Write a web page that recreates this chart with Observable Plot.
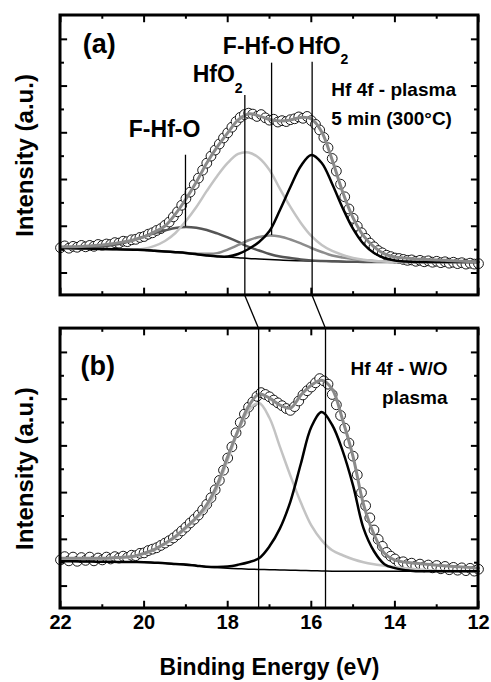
<!DOCTYPE html>
<html>
<head>
<meta charset="utf-8">
<script src="https://cdn.jsdelivr.net/npm/d3@7"></script>
<script src="https://cdn.jsdelivr.net/npm/@observablehq/plot@0.6"></script>
<style>
html, body { margin: 0; padding: 0; background: #fff; }
#chart { width: 491px; height: 682px; }
</style>
</head>
<body>
<div id="chart"></div>
<script>
// ---------- DATA ----------
// Binding energy grid (eV) for the fitted curves
const energyGrid = [22, 21.75, 21.5, 21.25, 21, 20.75, 20.5, 20.25, 20, 19.75, 19.5, 19.25, 19, 18.75, 18.5, 18.25, 18, 17.75, 17.5, 17.25, 17, 16.75, 16.5, 16.25, 16, 15.75, 15.5, 15.25, 15, 14.75, 14.5, 14.25, 14, 13.75, 13.5, 13.25, 13, 12.75, 12.5, 12.25, 12];
// Binding energy of the measured points (eV)
const energyPoints = [22.0, 21.9, 21.8, 21.7, 21.6, 21.5, 21.4, 21.3, 21.2, 21.1, 21.0, 20.9, 20.8, 20.7, 20.6, 20.5, 20.4, 20.3, 20.2, 20.1, 20.0, 19.9, 19.8, 19.7, 19.6, 19.5, 19.4, 19.3, 19.2, 19.1, 19.0, 18.9, 18.8, 18.7, 18.6, 18.5, 18.4, 18.3, 18.2, 18.1, 18.0, 17.9, 17.8, 17.7, 17.6, 17.5, 17.4, 17.3, 17.2, 17.1, 17.0, 16.9, 16.8, 16.7, 16.6, 16.5, 16.4, 16.3, 16.2, 16.1, 16.0, 15.9, 15.8, 15.7, 15.6, 15.5, 15.4, 15.3, 15.2, 15.1, 15.0, 14.9, 14.8, 14.7, 14.6, 14.5, 14.4, 14.3, 14.2, 14.1, 14.0, 13.9, 13.8, 13.7, 13.6, 13.5, 13.4, 13.3, 13.2, 13.1, 13.0, 12.9, 12.8, 12.7, 12.6, 12.5, 12.4, 12.3, 12.2, 12.1, 12.0];

// Panel (a): Hf 4f - plasma 5 min (300 °C)
const aMeasured = [5.4, 5.8, 5.3, 5.7, 5.5, 5.9, 5.6, 5.9, 5.7, 6.1, 5.9,
  6.2, 6.1, 6.5, 6.4, 6.8, 6.7, 7.1, 7.2, 7.6, 7.8,
  8.3, 8.6, 9.1, 9.5, 10.2, 10.9, 12.0, 13.1, 14.5, 15.9,
  17.3, 18.9, 20.3, 22.0, 23.5, 25.0, 26.3, 27.6, 28.9, 30.0,
  31.2, 32.4, 33.3, 33.9, 34.2, 34.0, 33.5, 33.9, 33.2, 32.7,
  32.9, 32.3, 32.6, 32.4, 32.8, 33.0, 33.4, 33.1, 33.5, 32.6,
  31.8, 30.6, 29.0, 26.8, 24.5, 21.8, 19.0, 16.3, 13.7, 11.7,
  10.0, 8.6, 7.4, 6.4, 5.6, 4.8, 4.3, 3.8, 3.5, 3.2,
  3.1, 2.9, 2.7, 2.8, 2.5, 2.7, 2.4, 2.6, 2.3, 2.5,
  2.2, 2.4, 2.1, 2.3, 2.0, 2.2, 1.9, 2.1, 1.9, 2.0];
const aEnvelope = [5.57, 5.61, 5.67, 5.82, 5.99, 6.25, 6.64, 7.06, 7.71, 8.78, 10.06, 12.63, 15.84, 19.48, 23.55, 26.98, 29.97, 32.75, 34.04, 33.61, 32.86, 32.54, 32.75, 33.29, 32.97, 30.19, 24.19, 17.34, 11.78, 7.92, 5.57, 4.07, 3.43, 3.21, 2.99, 2.89, 2.78, 2.68, 2.57, 2.46, 2.36];
const aBackground = [5.35, 5.31, 5.25, 5.20, 5.14, 5.10, 5.03, 4.97, 4.93, 4.77, 4.60, 4.45, 4.28, 4.03, 3.75, 3.58, 3.43, 3.28, 3.10, 3.00, 2.89, 2.78, 2.68, 2.61, 2.57, 2.51, 2.46, 2.42, 2.36, 2.36, 2.36, 2.36, 2.36, 2.36, 2.36, 2.36, 2.36, 2.36, 2.36, 2.36, 2.36];
const aFHfO_19 = [5.35, 5.39, 5.46, 5.57, 5.67, 5.99, 6.42, 7.06, 7.81, 8.56, 9.10, 9.63, 9.85, 9.68, 9.21, 8.46, 7.60, 6.64, 5.57, 4.82, 4.07, 3.53, 3.21, 2.89, 2.68, 2.57, 2.50, 2.44, 2.40, 2.36, 2.36, 2.36, 2.36, 2.36, 2.36, 2.36, 2.36, 2.36, 2.36, 2.36, 2.36];
const aHfO2_176 = [5.35, 5.31, 5.25, 5.20, 5.14, 5.10, 5.05, 5.05, 5.20, 5.80, 6.85, 8.56, 11.13, 14.13, 17.56, 20.77, 23.55, 25.48, 25.80, 24.62, 22.05, 17.98, 14.13, 10.71, 7.92, 5.99, 4.71, 3.85, 3.21, 2.83, 2.57, 2.46, 2.36, 2.36, 2.36, 2.36, 2.36, 2.36, 2.36, 2.36, 2.36];
const aFHfO_170 = [5.35, 5.31, 5.25, 5.20, 5.14, 5.10, 5.03, 4.97, 4.93, 4.77, 4.60, 4.45, 4.28, 4.15, 4.10, 4.25, 5.00, 6.00, 7.00, 7.70, 8.03, 7.81, 7.17, 6.32, 5.35, 4.50, 3.75, 3.32, 3.00, 2.72, 2.57, 2.46, 2.36, 2.36, 2.36, 2.36, 2.36, 2.36, 2.36, 2.36, 2.36];
const aHfO2_160 = [5.35, 5.31, 5.25, 5.20, 5.14, 5.10, 5.03, 4.97, 4.93, 4.77, 4.60, 4.45, 4.28, 4.03, 3.75, 3.55, 3.53, 4.07, 5.14, 6.64, 8.99, 13.49, 18.41, 22.91, 25.26, 23.55, 19.05, 13.92, 9.42, 6.21, 4.28, 3.21, 2.68, 2.46, 2.36, 2.36, 2.36, 2.36, 2.36, 2.36, 2.36];

// Panel (b): Hf 4f - W/O plasma
const bMeasured = [5.6, 6.3, 5.4, 6.2, 5.3, 6.1, 5.5, 6.2, 5.4, 6.0, 5.6,
  6.2, 5.8, 6.3, 6.0, 6.4, 6.1, 6.6, 6.5, 7.0, 7.1,
  7.6, 7.9, 8.2, 8.7, 9.2, 9.7, 10.3, 11.0, 11.8, 12.6,
  13.5, 14.3, 15.2, 16.3, 17.5, 18.9, 20.6, 22.6, 24.8, 27.4,
  29.8, 32.8, 35.0, 36.8, 38.3, 39.4, 40.6, 41.4, 41.0, 40.5,
  39.8, 39.2, 38.6, 38.0, 37.6, 38.4, 39.6, 40.9, 41.8, 42.6,
  43.5, 44.4, 43.9, 43.2, 41.0, 38.8, 36.5, 33.8, 30.6, 27.8,
  23.8, 20.0, 17.2, 14.6, 12.0, 10.0, 8.5, 7.2, 6.4, 5.8,
  5.0, 5.2, 4.6, 4.9, 4.3, 4.7, 4.1, 4.5, 3.9, 4.4,
  3.7, 4.2, 3.5, 4.0, 3.4, 3.9, 3.3, 3.8, 3.2, 3.6];
const bEnvelope = [5.96, 5.96, 5.96, 5.96, 5.96, 6.06, 6.17, 6.38, 7.02, 7.87, 9.15, 10.64, 12.56, 14.68, 17.45, 21.7, 27.7, 33.4, 38.5, 41.07, 40.22, 38.73, 38.09, 40.86, 42.99, 44.05, 42.13, 35.54, 27.66, 17.45, 11.07, 7.02, 5.53, 5.11, 4.89, 4.68, 4.47, 4.30, 4.15, 4.00, 3.83];
const bBackground = [5.32, 5.29, 5.27, 5.24, 5.21, 5.18, 5.16, 5.13, 5.11, 5.00, 4.90, 4.79, 4.68, 4.40, 4.10, 3.95, 3.83, 3.72, 3.62, 3.56, 3.51, 3.45, 3.40, 3.35, 3.30, 3.25, 3.19, 3.19, 3.19, 3.19, 3.19, 3.19, 3.19, 3.19, 3.19, 3.19, 3.19, 3.19, 3.19, 3.19, 3.19];
const bHfO2_173 = [5.85, 5.85, 5.85, 5.85, 5.85, 5.96, 6.06, 6.28, 6.92, 7.77, 8.94, 10.43, 12.34, 14.47, 16.6, 21.0, 27.0, 33.0, 37.6, 39.16, 35.96, 29.79, 23.62, 17.88, 12.98, 9.79, 7.66, 6.60, 5.75, 5.11, 4.68, 4.36, 4.04, 3.83, 3.62, 3.45, 3.30, 3.25, 3.22, 3.20, 3.19];
const bHfO2_157 = [5.32, 5.30, 5.27, 5.24, 5.21, 5.18, 5.15, 5.13, 5.11, 5.00, 4.89, 4.73, 4.58, 4.36, 4.15, 4.10, 4.20, 4.58, 5.11, 5.96, 8.51, 12.34, 18.09, 26.17, 34.05, 37.24, 34.47, 28.94, 21.49, 12.34, 7.45, 4.68, 3.83, 3.40, 3.19, 3.19, 3.19, 3.19, 3.19, 3.19, 3.19];

// Peak-position markers (eV)
const aPeakLines = [
  {E: 19.01, top: 25.2, bottom: 9.85},   // F-Hf-O
  {E: 17.59, top: 38.0, bottom: null},   // HfO2 (continues to panel b)
  {E: 16.95, top: 44.9, bottom: 8.03},   // F-Hf-O
  {E: 15.98, top: 45.1, bottom: null}    // HfO2 (continues to panel b)
];
const shiftFrom = [17.59, 15.98];   // HfO2 positions in (a)
const shiftTo   = [17.26, 15.66];   // HfO2 positions in (b)

// Text labels
const aPeakNames = [
  {E: 19.51, I: 30.6, text: "F-Hf-O"},
  {E: 17.26, I: 48.45, text: "F-Hf-O"}
];
const aOxideNames = [
  {E: 17.83, I: 42.35, text: "HfO", sub: "2", subI: 39.5},
  {E: 15.30, I: 48.45, text: "HfO", sub: "2", subI: 45.6}
];
const aNotes = [
  {E: 15.52, I: 39.1, text: "Hf 4f - plasma"},
  {E: 15.52, I: 33.0, text: "5 min (300°C)"}
];
const bNotes = [
  {E: 12.74, I: 46.5, text: "Hf 4f - W/O"},
  {E: 12.74, I: 40.3, text: "plasma"}
];
const panelTags = [
  {panel: "a", E: 21.47, I: 48.9, text: "(a)"},
  {panel: "b", E: 21.52, I: 47.0, text: "(b)"}
];
const xTickLabels = [22, 20, 18, 16, 14, 12];
const xMinorTicks = [21, 19, 17, 15, 13];
const yMajorTicks = [0, 10, 20, 30, 40, 50];
const yMinorTicks = [5, 15, 25, 35, 45];
const yTitle = "Intensity (a.u.)";
const xTitle = "Binding Energy (eV)";

// ---------- LAYOUT ----------
const Y_MIN = -4.8, Y_MAX = 55.1;   // each panel's intensity range
const OFFSET = 67;                  // panel (a) stacked above panel (b)
const offsets = {a: OFFSET, b: 0};

function curve(values, panel) {
  return values.map((v, i) => ({E: energyGrid[i], I: v + offsets[panel]}));
}
function points(values, panel) {
  return values.map((v, i) => ({E: energyPoints[i], I: v + offsets[panel]}));
}

const panels = ["a", "b"];
const frames = panels.map(p => ({x1: 22, x2: 12, y1: Y_MIN + offsets[p], y2: Y_MAX + offsets[p]}));

const yTicksMajor = panels.flatMap(p => yMajorTicks.map(v => ({I: v + offsets[p]})));
const yTicksMinor = panels.flatMap(p => yMinorTicks.map(v => ({I: v + offsets[p]})));
const xTicksMajor = panels.flatMap(p => xTickLabels.map(e => ({E: e, lo: Y_MIN + offsets[p], hi: Y_MAX + offsets[p]})));
const xTicksMinor = panels.flatMap(p => xMinorTicks.map(e => ({E: e, lo: Y_MIN + offsets[p], hi: Y_MAX + offsets[p]})));

const XT_MAJ = 1.55, XT_MIN = 0.8;    // tick lengths (intensity units)
const YT_MAJ = 0.17, YT_MIN = 0.095;  // tick lengths (eV)

const lineStyle = {x: "E", y: "I", curve: "catmull-rom", strokeLinejoin: "round", strokeLinecap: "round"};

const font = "'Liberation Sans', Arial, Helvetica, sans-serif";
const bold = {fontWeight: "bold", fill: "#000", lineAnchor: "middle"};

const chart = Plot.plot({
  width: 491,
  height: 682,
  marginLeft: 60,
  marginRight: 13,
  marginTop: 15,
  marginBottom: 74,
  style: {fontFamily: font, fontWeight: "bold", background: "#fff", overflow: "visible"},
  x: {domain: [22, 12]},
  y: {domain: [Y_MIN, Y_MAX + OFFSET], axis: null},
  marks: [
    // measured points (open circles)
    Plot.dot(points(aMeasured, "a"), {x: "E", y: "I", r: 4.9, stroke: "#000", strokeWidth: 0.9, fill: "#fff"}),
    Plot.dot(points(bMeasured, "b"), {x: "E", y: "I", r: 4.9, stroke: "#000", strokeWidth: 0.9, fill: "#fff"}),
    // backgrounds
    Plot.line(curve(aBackground, "a"), {...lineStyle, stroke: "#000", strokeWidth: 1.5}),
    Plot.line(curve(bBackground, "b"), {...lineStyle, stroke: "#000", strokeWidth: 1.5}),
    // components (a)
    Plot.line(curve(aFHfO_19, "a"), {...lineStyle, stroke: "#555", strokeWidth: 2.5}),
    Plot.line(curve(aFHfO_170, "a"), {...lineStyle, stroke: "#8c8c8c", strokeWidth: 2.5}),
    Plot.line(curve(aHfO2_176, "a"), {...lineStyle, stroke: "#c3c3c3", strokeWidth: 2.5}),
    Plot.line(curve(aHfO2_160, "a"), {...lineStyle, stroke: "#000", strokeWidth: 2.5}),
    // components (b)
    Plot.line(curve(bHfO2_173, "b"), {...lineStyle, stroke: "#c3c3c3", strokeWidth: 2.5}),
    Plot.line(curve(bHfO2_157, "b"), {...lineStyle, stroke: "#000", strokeWidth: 2.5}),
    // envelopes
    Plot.line(curve(aEnvelope, "a"), {...lineStyle, stroke: "#8a8a8a", strokeWidth: 3}),
    Plot.line(curve(bEnvelope, "b"), {...lineStyle, stroke: "#8a8a8a", strokeWidth: 3}),

    // peak marker lines in (a)
    Plot.ruleX(aPeakLines, {x: "E", y1: d => d.top + OFFSET, y2: d => (d.bottom == null ? Y_MIN : d.bottom) + OFFSET, stroke: "#000", strokeWidth: 1.3}),
    // shift connectors between panels
    Plot.link(shiftFrom.map((e, i) => ({x1: e, x2: shiftTo[i]})), {x1: "x1", x2: "x2", y1: Y_MIN + OFFSET, y2: Y_MAX, stroke: "#000", strokeWidth: 1.3}),
    // peak marker lines in (b)
    Plot.ruleX(shiftTo, {x: d => d, y1: Y_MIN, y2: Y_MAX, stroke: "#000", strokeWidth: 1.3}),

    // frames
    Plot.rect(frames, {x1: "x1", x2: "x2", y1: "y1", y2: "y2", fill: "none", stroke: "#000", strokeWidth: 3}),
    // bottom / top ticks
    Plot.ruleX(xTicksMajor, {x: "E", y1: "lo", y2: d => d.lo + XT_MAJ, stroke: "#000", strokeWidth: 2}),
    Plot.ruleX(xTicksMajor, {x: "E", y1: "hi", y2: d => d.hi - XT_MAJ, stroke: "#000", strokeWidth: 2}),
    Plot.ruleX(xTicksMinor, {x: "E", y1: "lo", y2: d => d.lo + XT_MIN, stroke: "#000", strokeWidth: 2}),
    Plot.ruleX(xTicksMinor, {x: "E", y1: "hi", y2: d => d.hi - XT_MIN, stroke: "#000", strokeWidth: 2}),
    // left / right ticks
    Plot.ruleY(yTicksMajor, {y: "I", x1: 22, x2: 22 - YT_MAJ, stroke: "#000", strokeWidth: 2}),
    Plot.ruleY(yTicksMajor, {y: "I", x1: 12, x2: 12 + YT_MAJ, stroke: "#000", strokeWidth: 2}),
    Plot.ruleY(yTicksMinor, {y: "I", x1: 22, x2: 22 - YT_MIN, stroke: "#000", strokeWidth: 2}),
    Plot.ruleY(yTicksMinor, {y: "I", x1: 12, x2: 12 + YT_MIN, stroke: "#000", strokeWidth: 2}),

    // x axis labels
    Plot.axisX({ticks: xTickLabels, tickSize: 0, tickPadding: 6, fontSize: 20, fontWeight: "bold", tickFormat: d => String(d), label: null}),
    Plot.text([xTitle], {...bold, frameAnchor: "bottom", textAnchor: "middle", dy: 59, fontSize: 23}),
    // y titles
    Plot.text(panels, {...bold, frameAnchor: "left", textAnchor: "middle", y: p => (Y_MIN + Y_MAX) / 2 + offsets[p], text: () => yTitle, rotate: -90, dx: -35, fontSize: 24}),
    // panel tags
    Plot.text(panelTags, {...bold, x: "E", y: d => d.I + offsets[d.panel], text: "text", textAnchor: "start", fontSize: 27}),
    // peak names (a)
    Plot.text(aPeakNames, {...bold, x: "E", y: d => d.I + OFFSET, text: "text", textAnchor: "middle", fontSize: 23}),
    Plot.text(aOxideNames, {...bold, x: "E", y: d => d.I + OFFSET, text: "text", textAnchor: "end", fontSize: 23}),
    Plot.text(aOxideNames, {...bold, x: "E", y: d => d.subI + OFFSET, text: "sub", textAnchor: "start", fontSize: 14}),
    // notes
    Plot.text(aNotes, {...bold, x: "E", y: d => d.I + OFFSET, text: "text", textAnchor: "start", fontSize: 19}),
    Plot.text(bNotes, {...bold, x: "E", y: "I", text: "text", textAnchor: "end", fontSize: 19})
  ]
});
document.getElementById("chart").appendChild(chart);
</script>
</body>
</html>
